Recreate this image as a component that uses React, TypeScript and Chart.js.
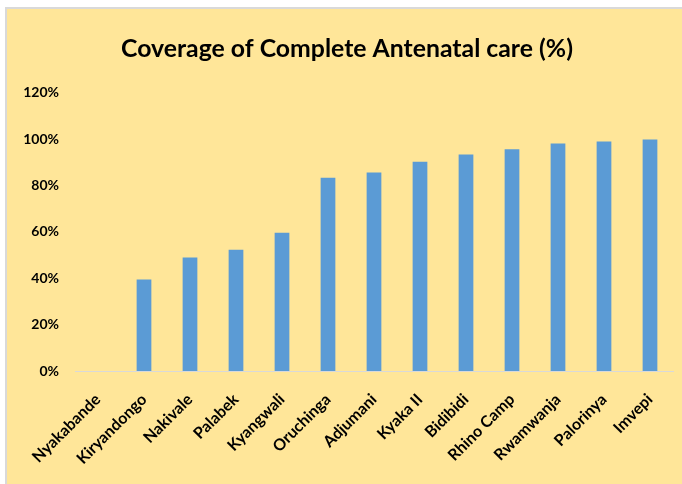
import { useEffect, useRef } from "react";
import { Chart, registerables } from "chart.js";

Chart.register(...registerables);

const categories = [
  "Nyakabande",
  "Kiryandongo",
  "Nakivale",
  "Palabek",
  "Kyangwali",
  "Oruchinga",
  "Adjumani",
  "Kyaka II",
  "Bidibidi",
  "Rhino Camp",
  "Rwamwanja",
  "Palorinya",
  "Imvepi",
];

const coverage = [0, 39.5, 49, 52.3, 59.6, 83.3, 85.6, 90.2, 93.4, 95.6, 98.1, 99, 99.8];

const yMin = 0;
const yMax = 120;
const yStep = 20;

const titleText = "Coverage of Complete Antenatal care (%)";

const FONT = "Lato, 'Liberation Sans', sans-serif";

export default function App() {
  const canvasRef = useRef<HTMLCanvasElement | null>(null);

  useEffect(() => {
    if (!canvasRef.current) return;
    const chart = new Chart(canvasRef.current, {
      type: "bar",
      data: {
        labels: categories,
        datasets: [
          {
            label: "Coverage",
            data: coverage,
            backgroundColor: "#5B9BD5",
            borderWidth: 0,
            categoryPercentage: 1,
            barPercentage: 0.32,
          },
        ],
      },
      options: {
        responsive: false,
        animation: false,
        maintainAspectRatio: false,
        layout: { padding: { left: 14, right: 9, top: 0, bottom: 0 } },
        plugins: {
          legend: { display: false },
          tooltip: { enabled: false },
          title: {
            display: true,
            text: titleText,
            color: "#000000",
            font: { family: FONT, size: 24.8, weight: "bold" },
            padding: { top: 25, bottom: 29 },
          },
        },
        scales: {
          x: {
            grid: { display: false, drawTicks: false },
            border: { display: true, color: "#D9D9D9", width: 1 },
            ticks: {
              autoSkip: false,
              maxRotation: 45,
              minRotation: 45,
              padding: 19,
              color: "#000000",
              font: { family: FONT, size: 16, weight: "bold" },
            },
            afterFit: (scale: any) => {
              scale.height = 113;
              scale.paddingLeft = 0;
              scale.paddingRight = 0;
            },
          },
          y: {
            min: yMin,
            max: yMax,
            grid: { display: false, drawTicks: false },
            border: { display: false },
            ticks: {
              stepSize: yStep,
              padding: 16,
              color: "#000000",
              font: { family: FONT, size: 14, weight: "bold" },
              callback: (v: any) => `${v}%`,
            },
            afterFit: (scale: any) => {
              scale.width = 54;
            },
          },
        },
      },
    });
    return () => chart.destroy();
  }, []);

  return (
    <div
      style={{
        position: "fixed",
        left: 0,
        top: 0,
        width: 682,
        height: 484,
        background: "#FFFFFF",
        overflow: "hidden",
      }}
    >
      <div
        style={{
          position: "absolute",
          left: 5,
          top: 7,
          width: 700,
          height: 500,
          boxSizing: "border-box",
          borderLeft: "2px solid #D9D9D9",
          borderTop: "2px solid #D9D9D9",
          background: "#FFE699",
        }}
      >
        <canvas ref={canvasRef} width={675} height={475} style={{ display: "block" }} />
      </div>
    </div>
  );
}
